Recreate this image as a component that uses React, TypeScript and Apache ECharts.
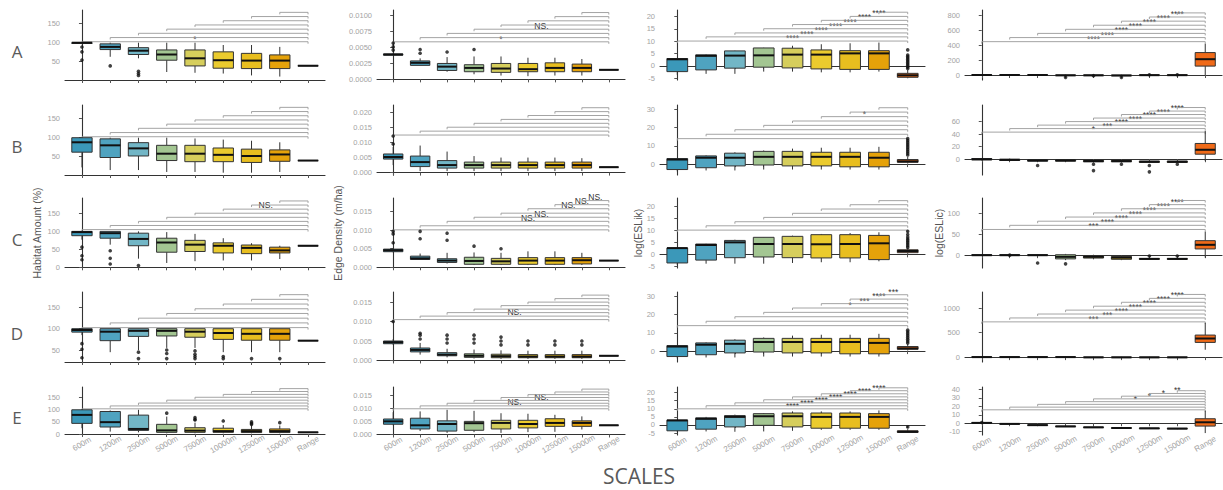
import { useEffect, useRef } from "react";
import * as echarts from "echarts";

const CATEGORIES = ["600m", "1200m", "2500m", "5000m", "7500m", "10000m", "12500m", "15000m", "Range"];
const BOX_COLORS = ["#3B98B9", "#4FA3C0", "#72B6C6", "#A3C692", "#D6CE5C", "#EBCB2E", "#E8BE1F", "#E5A20A", "#F06A18"];
const ROW_LETTERS = ["A", "B", "C", "D", "E"];
const Y_TITLES = ["Habitat Amount (%)", "Edge Density (m/ha)", "log(ESLik)", "log(ESLic)"];
const X_TITLE = "SCALES";

// ---------- Row A ----------
const box_A1 = [[96, 98, 100, 100, 100], [63, 82, 89, 97, 100], [59, 69, 79, 87, 100], [23, 54, 69, 81, 100], [21, 39, 59, 81, 100], [19, 33, 54, 76, 94], [14, 32, 53, 72, 94], [11, 32, 53, 68, 89], [39.5, 39.5, 39.5, 39.5, 39.5]];
const out_A1 = [[0, 88.6], [0, 76], [0, 54.4], [1, 39], [2, 25], [2, 19], [2, 14]];
const br_A1 = [102.6, 113.6, 124.7, 135.7, 146.7, 157.8, 168.8, 179.8];
const sig_A1 = ["*", "", "", "", "", "", "", ""];
const y_A1 = [2, 186];
const ticks_A1 = [50, 100, 150];

const box_A2 = [[0.0038, 0.0038, 0.0039, 0.004, 0.0042], [0.0022, 0.0022, 0.0026, 0.0029, 0.0033], [0.0012, 0.0014, 0.002, 0.0025, 0.0035], [0.0008, 0.0012, 0.0018, 0.0023, 0.0036], [0.0006, 0.0011, 0.0017, 0.0025, 0.0036], [0.0005, 0.0012, 0.0016, 0.0025, 0.0034], [0.0006, 0.0012, 0.0018, 0.0026, 0.0034], [0.0006, 0.0012, 0.0018, 0.0024, 0.0032], [0.0015, 0.0015, 0.0015, 0.0015, 0.0015]];
const out_A2 = [[0, 0.0057], [0, 0.0051], [0, 0.0046], [1, 0.0047], [1, 0.0041], [2, 0.0043], [3, 0.0047]];
const br_A2 = [0.0059, 0.00656, 0.00722, 0.00788, 0.00854, 0.0092, 0.00986, 0.0105];
const sig_A2 = ["*", "", "", "NS.", "", "", "", ""];
const y_A2 = [-0.0001, 0.0109];
const ticks_A2 = [0, 0.0025, 0.005, 0.0075, 0.01];

const box_A3 = [[-3.6, -2.3, 2.7, 3.0, 3.1], [-3.2, -1.6, 4.1, 4.5, 4.7], [-3.2, -0.9, 4.2, 6.1, 6.2], [-2.3, -0.5, 4.3, 7.3, 7.4], [-2.3, -0.8, 4.6, 7.2, 8.2], [-2.6, -1.2, 4.6, 6.5, 8.8], [-2.6, -1.4, 5.1, 6.2, 9.2], [-2.3, -1.4, 5.1, 6.2, 9.5], [-5.0, -4.6, -3.8, -3.0, -1.6]];
const out_A3 = [[8, 6.5], [8, 4.4], [8, 3.8], [8, 3.2], [8, 2.6], [8, 2.0], [8, 1.4], [8, 0.8], [8, 0.2], [8, -0.4], [8, -1.0]];
const br_A3 = [10.1, 11.8, 13.4, 15.1, 16.8, 18.5, 20.1, 21.8];
const sig_A3 = ["****", "****", "****", "****", "****", "****", "****", ""];
const y_A3 = [-5.7, 22.7];
const ticks_A3 = [-5, 0, 5, 10, 15, 20];

const box_A4 = [[-8, -3, 0, 3, 8], [-8, -3, 0, 3, 8], [-6, -2, 0, 2, 6], [-14, -8, -4, 0, 5], [-14, -8, -4, 0, 5], [-16, -10, -6, -2, 4], [-10, -5, -2, 2, 6], [-10, -5, -2, 2, 6], [0, 120, 213, 302, 422]];
const out_A4 = [[3, -31], [4, -9], [5, -31], [6, 4], [7, 4]];
const br_A4 = [449, 504, 560, 615, 670, 725, 781, 836];
const sig_A4 = ["****", "****", "****", "****", "****", "****", "****", ""];
const y_A4 = [-67, 875];
const ticks_A4 = [0, 200, 400, 600, 800];

// ---------- Row B ----------
const box_B1 = [[22, 62, 88, 100, 100], [15, 48, 80, 97, 100], [15, 52, 72, 87, 100], [10, 40, 58, 80, 100], [10, 37, 58, 80, 98], [8, 37, 55, 73, 95], [8, 35, 52, 70, 92], [10, 38, 56, 68, 88], [40, 40, 40, 40, 40]];
const out_B1: number[][] = [];
const br_B1 = [102.6, 113.6, 124.7, 135.7, 146.7, 157.8, 168.8, 179.8];
const sig_B1 = ["", "", "", "", "", "", "", ""];
const y_B1 = [2, 186];
const ticks_B1 = [50, 100, 150];

const box_B2 = [[0.0025, 0.0045, 0.0052, 0.0062, 0.0085], [0.0005, 0.002, 0.0035, 0.0055, 0.009], [0.0005, 0.0015, 0.0025, 0.004, 0.007], [0.0005, 0.0015, 0.0025, 0.0035, 0.0055], [0.0005, 0.0015, 0.0025, 0.0035, 0.005], [0.0005, 0.0015, 0.0025, 0.0035, 0.005], [0.0005, 0.0015, 0.0025, 0.0035, 0.005], [0.0005, 0.0015, 0.0025, 0.0035, 0.0048], [0.0018, 0.0018, 0.0018, 0.0018, 0.0018]];
const out_B2 = [[0, 0.0095], [0, 0.0122]];
const br_B2 = [0.0125, 0.0138, 0.0151, 0.0164, 0.0177, 0.019, 0.0203, 0.0216];
const sig_B2 = ["", "", "", "", "", "", "", ""];
const y_B2 = [-0.0008, 0.0225];
const ticks_B2 = [0, 0.005, 0.01, 0.015, 0.02];

const box_B3 = [[-4, -3, 2.5, 3, 3], [-3.5, -2, 3.5, 4.5, 4.8], [-3.5, -1, 3.5, 6, 6.5], [-3, -0.5, 4, 7, 7.5], [-3, -1, 4, 7, 8.5], [-3, -1, 4, 6.5, 9], [-3, -1.5, 4, 6.5, 9], [-3, -1.5, 3.5, 6.5, 9.5], [0.3, 1, 1.5, 2.5, 4]];
const out_B3 = [[8, 5], [8, 6], [8, 7], [8, 8], [8, 9], [8, 10], [8, 11], [8, 12], [8, 13], [8, 14]];
const br_B3 = [14, 16.4, 18.9, 21.3, 23.7, 26.1, 28.6, 31];
const sig_B3 = ["", "", "", "", "", "*", "", ""];
const y_B3 = [-6, 32.5];
const ticks_B3 = [0, 10, 20, 30];

const box_B4 = [[-2, -1, 0, 1, 2], [-3, -2, -1, 0, 1], [-4, -3, -2, -1, 0], [-4, -3, -2, -1, 0], [-5, -4, -3, -2, -1], [-5, -4, -3, -2, -1], [-6, -5, -4, -3, -2], [-6, -5, -4, -3, -2], [-3, 8, 15, 25, 45]];
const out_B4 = [[2, -10], [4, -8], [4, -18], [5, -8], [6, -10], [6, -20], [7, -8]];
const br_B4 = [43, 48.6, 54.1, 59.7, 65.3, 70.9, 76.4, 82];
const sig_B4 = ["*", "***", "****", "****", "****", "****", "****", ""];
const y_B4 = [-25, 86];
const ticks_B4 = [0, 20, 40, 60];

// ---------- Row C ----------
const box_C1 = [[77, 88, 98, 100, 100], [63, 81, 95, 100, 100], [24, 60, 79, 95, 100], [12, 42, 69, 81, 98], [17, 44, 63, 75, 93], [19, 40, 60, 68, 81], [19, 38, 54, 62, 67], [23, 40, 47, 56, 60], [60, 60, 60, 60, 60]];
const out_C1 = [[0, 56], [0, 32], [0, 21], [1, 46], [1, 25], [1, 9], [2, 5]];
const br_C1 = [105, 116.4, 127.8, 139.2, 150.6, 162, 173.4, 184.8];
const sig_C1 = ["", "", "", "", "", "NS.", "", ""];
const y_C1 = [-2, 193];
const ticks_C1 = [0, 50, 100, 150];

const box_C2 = [[0.004, 0.0042, 0.0046, 0.0049, 0.0052], [0.002, 0.0021, 0.0024, 0.003, 0.0037], [0.001, 0.0013, 0.0018, 0.0023, 0.0039], [0.0006, 0.0008, 0.0017, 0.0027, 0.004], [0.0006, 0.0008, 0.0016, 0.0024, 0.0039], [0.0006, 0.0008, 0.0018, 0.0026, 0.0043], [0.0006, 0.0008, 0.0018, 0.0026, 0.0043], [0.0006, 0.0009, 0.0019, 0.0026, 0.0039], [0.0018, 0.0018, 0.0018, 0.0018, 0.0018]];
const out_C2 = [[0, 0.0097], [0, 0.009], [0, 0.0066], [1, 0.0097], [1, 0.0077], [2, 0.0092], [2, 0.0073], [3, 0.0057], [4, 0.005]];
const br_C2 = [0.0101, 0.0112, 0.0124, 0.0135, 0.0146, 0.0158, 0.0169, 0.018];
const sig_C2 = ["", "", "NS.", "NS.", "", "NS.", "NS.", "NS."];
const y_C2 = [-0.0002, 0.0187];
const ticks_C2 = [0, 0.005, 0.01, 0.015];

const box_C3 = [[-4.4, -3.6, 2.6, 2.6, 2.7], [-3.9, -2.4, 3.9, 4.3, 4.4], [-3.9, -1.4, 5.0, 5.8, 6.1], [-3.9, -1.1, 4.3, 7.1, 7.2], [-3.6, -1.4, 4.3, 7.5, 7.8], [-3.3, -1.5, 4.2, 8.2, 8.5], [-3.3, -1.5, 4.3, 8.2, 8.9], [-2.9, -2.2, 4.6, 7.9, 9.2], [0.2, 0.7, 1.4, 1.9, 2.6]];
const out_C3 = [[8, 9.6], [8, 8.3], [8, 7.2], [8, 6.4], [8, 5.7], [8, 5.0], [8, 4.3], [8, 3.6], [8, 2.9]];
const br_C3 = [10.1, 11.9, 13.6, 15.4, 17.1, 18.9, 20.7, 22.4];
const sig_C3 = ["", "", "", "", "", "", "", ""];
const y_C3 = [-5.7, 23.5];
const ticks_C3 = [-5, 0, 5, 10, 15, 20];

const box_C4 = [[-2, -1, 0, 1, 2], [-2, -1, 0, 1, 2], [-2, -1, 0, 1, 2], [-12, -9, -4, 1, 3], [-10, -7, -4, -1, 1], [-12, -10, -6, -3, -1], [-11, -10, -9, -8, -7], [-11, -10, -9, -8, -7], [-6, 15, 25, 35, 57]];
const out_C4 = [[1, 0], [2, -19], [3, -21], [6, -2], [7, -2]];
const br_C4 = [62, 72, 82, 92, 102, 112, 122, 132];
const sig_C4 = ["***", "****", "****", "****", "****", "****", "****", ""];
const y_C4 = [-31, 138];
const ticks_C4 = [0, 50, 100];

// ---------- Row D ----------
const box_D1 = [[85, 92, 97, 100, 100], [45, 72, 93, 100, 100], [50, 82, 95, 100, 100], [55, 83, 95, 100, 100], [55, 80, 93, 100, 100], [45, 75, 90, 100, 100], [45, 73, 88, 100, 100], [45, 73, 88, 100, 100], [72, 72, 72, 72, 72]];
const out_D1 = [[0, 65], [0, 52], [0, 32], [2, 45], [2, 30], [3, 50], [3, 42], [3, 30], [4, 48], [4, 40], [4, 35], [4, 30], [5, 35], [5, 30], [6, 30], [7, 30]];
const br_D1 = [102.6, 113.6, 124.7, 135.7, 146.7, 157.8, 168.8, 179.8];
const sig_D1 = ["", "", "", "", "", "", "", ""];
const y_D1 = [22, 186];
const ticks_D1 = [50, 100, 150];

const box_D2 = [[0.004, 0.0043, 0.0047, 0.005, 0.0055], [0.0015, 0.0022, 0.0027, 0.0032, 0.0045], [0.0008, 0.0012, 0.0015, 0.002, 0.003], [0.0005, 0.0008, 0.0012, 0.0017, 0.0028], [0.0004, 0.0007, 0.0011, 0.0016, 0.0026], [0.0004, 0.0007, 0.001, 0.0015, 0.0025], [0.0004, 0.0007, 0.001, 0.0015, 0.0025], [0.0004, 0.0007, 0.001, 0.0015, 0.0025], [0.0012, 0.0012, 0.0012, 0.0012, 0.0012]];
const out_D2 = [[0, 0.01], [1, 0.0055], [1, 0.0065], [1, 0.007], [2, 0.0045], [2, 0.0055], [2, 0.0065], [3, 0.0045], [3, 0.0055], [3, 0.0065], [4, 0.004], [4, 0.005], [4, 0.006], [5, 0.004], [5, 0.005], [6, 0.004], [6, 0.005], [7, 0.004], [7, 0.005]];
const br_D2 = [0.0105, 0.0114, 0.0123, 0.0132, 0.0141, 0.015, 0.0159, 0.0168];
const sig_D2 = ["", "NS.", "", "", "", "", "", ""];
const y_D2 = [-0.0004, 0.0176];
const ticks_D2 = [0, 0.005, 0.01, 0.015];

const box_D3 = [[-4, -3, 2.5, 3, 3], [-3.5, -2, 3.5, 4.5, 4.8], [-3.5, -1, 4, 6, 6.5], [-3, -0.5, 5, 7, 7.5], [-3, -1, 5, 7, 8.5], [-3, -1, 5, 7, 9], [-3, -1.5, 5, 7, 9], [-3, -1.5, 4.5, 7, 9.5], [0.3, 1, 1.5, 2.5, 4]];
const out_D3 = [[8, 4.5], [8, 5.5], [8, 6.5], [8, 7.5], [8, 8.5], [8, 9.5], [8, 10.5], [8, 11.5]];
const br_D3 = [14, 16.4, 18.9, 21.3, 23.7, 26.1, 28.6, 31];
const sig_D3 = ["", "", "", "", "*", "***", "****", "***"];
const y_D3 = [-6, 32.5];
const ticks_D3 = [0, 10, 20, 30];

const box_D4 = [[-10, -5, 0, 5, 10], [-10, -5, 0, 5, 10], [-10, -5, 0, 5, 10], [-10, -5, 0, 5, 10], [-15, -10, -5, 0, 5], [-15, -10, -5, 0, 5], [-15, -10, -5, 0, 5], [-15, -10, -5, 0, 5], [150, 300, 380, 450, 700]];
const out_D4: number[][] = [];
const br_D4 = [720, 800, 880, 960, 1040, 1120, 1200, 1280];
const sig_D4 = ["***", "***", "****", "****", "****", "****", "****", ""];
const y_D4 = [-100, 1330];
const ticks_D4 = [0, 500, 1000];

// ---------- Row E ----------
const box_E1 = [[24, 44, 79, 100, 103], [10, 29, 49, 93, 97], [7, 15, 21, 78, 100], [3, 7, 15, 40, 72], [3, 7, 14, 26, 47], [3, 7, 12, 24, 37], [3, 6, 12, 19, 36], [3, 6, 12, 21, 35], [7, 7, 7, 7, 7]];
const out_E1 = [[3, 86], [4, 68], [4, 61], [4, 58], [5, 54], [6, 50], [6, 44], [6, 40], [7, 47]];
const br_E1 = [104, 115.9, 127.8, 139.7, 151.6, 163.5, 175.4, 187.3];
const sig_E1 = ["", "", "", "", "", "", "", ""];
const y_E1 = [-4, 194];
const ticks_E1 = [0, 50, 100, 150];

const box_E2 = [[0.0035, 0.0039, 0.005, 0.0059, 0.0085], [0.0013, 0.0021, 0.0035, 0.0062, 0.0088], [0.0006, 0.0013, 0.004, 0.0052, 0.0094], [0.0009, 0.0016, 0.0043, 0.005, 0.009], [0.0006, 0.0021, 0.0044, 0.0054, 0.0081], [0.0009, 0.0025, 0.004, 0.0054, 0.0079], [0.001, 0.0031, 0.0044, 0.006, 0.0075], [0.0019, 0.0031, 0.0044, 0.0052, 0.0069], [0.0035, 0.0035, 0.0035, 0.0035, 0.0035]];
const out_E2: number[][] = [];
const br_E2 = [0.0098, 0.0109, 0.0119, 0.013, 0.0141, 0.0152, 0.0162, 0.0173];
const sig_E2 = ["", "NS.", "", "NS.", "", "", "", ""];
const y_E2 = [-0.0002, 0.0181];
const ticks_E2 = [0, 0.005, 0.01, 0.015];

const box_E3 = [[-4.2, -3.6, 2.8, 3.0, 3.1], [-4.0, -2.6, 3.8, 4.4, 5.0], [-4.2, -1.2, 5.0, 5.8, 6.4], [-4.0, -0.2, 5.4, 7.0, 7.4], [-3.6, -1.2, 5.4, 7.4, 8.4], [-3.0, -2.0, 5.0, 7.4, 8.4], [-3.0, -2.0, 5.0, 7.4, 8.4], [-3.0, -2.0, 5.0, 7.0, 9.0], [-4.8, -4.6, -4.2, -3.6, -2.6]];
const out_E3 = [[8, -1.2]];
const br_E3 = [10, 11.9, 13.7, 15.6, 17.4, 19.3, 21.2, 23];
const sig_E3 = ["****", "****", "****", "****", "****", "****", "****", ""];
const y_E3 = [-6.2, 23.5];
const ticks_E3 = [-5, 0, 5, 10, 15, 20];

const box_E4 = [[-0.3, 0, 0.4, 0.8, 1.1], [-1.5, -1.1, -0.8, -0.5, -0.1], [-3.0, -2.6, -2.3, -2.0, -1.6], [-4.5, -4.1, -3.8, -3.5, -3.1], [-5.6, -5.2, -4.9, -4.6, -4.2], [-6.4, -6.0, -5.7, -5.4, -5.0], [-6.8, -6.4, -6.1, -5.8, -5.4], [-7.1, -6.7, -6.4, -6.1, -5.7], [-11.7, -3.4, 1.1, 5.3, 14.8]];
const out_E4 = [[0, 0.8]];
const br_E4 = [15.9, 19.1, 22.4, 25.6, 28.9, 32.1, 35.3, 38.6];
const sig_E4 = ["", "", "", "*", "*", "*", "**", ""];
const y_E4 = [-14, 43];
const ticks_E4 = [-10, 0, 10, 20, 30, 40];

// ---------- layout ----------
const COL_LEFT = [65, 377, 660, 965];
const COL_WIDTH = [260, 248, 265, 257];
const ROW_TOP = [10, 105, 198, 292, 387];
const ROW_BOTTOM = [80, 175, 268, 362, 435];
const DECIMALS = [
  [0, 4, 0, 0],
  [0, 3, 0, 0],
  [0, 3, 0, 0],
  [0, 3, 0, 0],
  [0, 3, 0, 0],
];

const PANELS = [
  [box_A1, out_A1, br_A1, sig_A1, y_A1, ticks_A1], [box_A2, out_A2, br_A2, sig_A2, y_A2, ticks_A2], [box_A3, out_A3, br_A3, sig_A3, y_A3, ticks_A3], [box_A4, out_A4, br_A4, sig_A4, y_A4, ticks_A4],
  [box_B1, out_B1, br_B1, sig_B1, y_B1, ticks_B1], [box_B2, out_B2, br_B2, sig_B2, y_B2, ticks_B2], [box_B3, out_B3, br_B3, sig_B3, y_B3, ticks_B3], [box_B4, out_B4, br_B4, sig_B4, y_B4, ticks_B4],
  [box_C1, out_C1, br_C1, sig_C1, y_C1, ticks_C1], [box_C2, out_C2, br_C2, sig_C2, y_C2, ticks_C2], [box_C3, out_C3, br_C3, sig_C3, y_C3, ticks_C3], [box_C4, out_C4, br_C4, sig_C4, y_C4, ticks_C4],
  [box_D1, out_D1, br_D1, sig_D1, y_D1, ticks_D1], [box_D2, out_D2, br_D2, sig_D2, y_D2, ticks_D2], [box_D3, out_D3, br_D3, sig_D3, y_D3, ticks_D3], [box_D4, out_D4, br_D4, sig_D4, y_D4, ticks_D4],
  [box_E1, out_E1, br_E1, sig_E1, y_E1, ticks_E1], [box_E2, out_E2, br_E2, sig_E2, y_E2, ticks_E2], [box_E3, out_E3, br_E3, sig_E3, y_E3, ticks_E3], [box_E4, out_E4, br_E4, sig_E4, y_E4, ticks_E4],
] as any[];

const FONT = "Liberation Sans, Arial, sans-serif";
const CAT_IDX = CATEGORIES.map((_, i) => i);

function buildOption() {
  const grid: any[] = [];
  const xAxis: any[] = [];
  const yAxis: any[] = [];
  const series: any[] = [];
  const graphic: any[] = [];

  PANELS.forEach((p: any[], idx: number) => {
    const r = Math.floor(idx / 4);
    const c = idx % 4;
    const [box, out, br, sig, yr, ticks] = p;
    const dec = DECIMALS[r][c];
    grid.push({ left: COL_LEFT[c], top: ROW_TOP[r], width: COL_WIDTH[c], height: ROW_BOTTOM[r] - ROW_TOP[r], containLabel: false });
    xAxis.push({
      type: "value", gridIndex: idx, min: -0.6, max: 8.6,
      axisLine: { show: true, lineStyle: { color: "#333", width: 1.1 } },
      axisTick: { show: true, customValues: CAT_IDX, length: 3, lineStyle: { color: "#555" } },
      axisLabel: r === 4 ? {
        show: true, customValues: CAT_IDX, formatter: (v: number) => CATEGORIES[Math.round(v)] || "",
        rotate: 30, align: "center", verticalAlign: "middle", margin: 9, fontSize: 8, color: "#a3a3a3", fontFamily: FONT,
      } : { show: false },
      splitLine: { show: false },
    });
    yAxis.push({
      type: "value", gridIndex: idx, min: yr[0], max: yr[1],
      axisLine: { show: true, lineStyle: { color: "#333", width: 1.1 } },
      axisTick: { show: true, customValues: ticks, length: 3, lineStyle: { color: "#555" } },
      axisLabel: { show: true, customValues: ticks, formatter: (v: number) => v.toFixed(dec), fontSize: 7.5, color: "#a3a3a3", margin: 5, fontFamily: FONT },
      splitLine: { show: false },
    });
    series.push({
      type: "custom", xAxisIndex: idx, yAxisIndex: idx, z: 3,
      data: box.map((b: number[], k: number) => [k, b[0], b[1], b[2], b[3], b[4]]),
      encode: { x: 0, y: [1, 2, 3, 4, 5] },
      renderItem: (params: any, api: any) => {
        const x = api.value(0);
        const lo = api.coord([x, api.value(1)]);
        const q1 = api.coord([x, api.value(2)]);
        const md = api.coord([x, api.value(3)]);
        const q3 = api.coord([x, api.value(4)]);
        const hi = api.coord([x, api.value(5)]);
        const w = api.size([1, 0])[0] * 0.72;
        const cx = lo[0];
        return {
          type: "group",
          children: [
            { type: "line", shape: { x1: cx, y1: hi[1], x2: cx, y2: q3[1] }, style: { stroke: "#333", lineWidth: 1 } },
            { type: "line", shape: { x1: cx, y1: q1[1], x2: cx, y2: lo[1] }, style: { stroke: "#333", lineWidth: 1 } },
            { type: "rect", shape: { x: cx - w / 2, y: q3[1], width: w, height: Math.max(q1[1] - q3[1], 0.01) }, style: { fill: BOX_COLORS[x], stroke: "#333", lineWidth: 1 } },
            { type: "line", shape: { x1: cx - w / 2, y1: md[1], x2: cx + w / 2, y2: md[1] }, style: { stroke: "#111", lineWidth: 2 } },
          ],
        };
      },
    });
    series.push({
      type: "scatter", xAxisIndex: idx, yAxisIndex: idx, z: 4,
      data: out, symbolSize: 3.6, itemStyle: { color: "#111" }, silent: true,
    });
    series.push({
      type: "custom", xAxisIndex: idx, yAxisIndex: idx, z: 2,
      data: br.map((v: number, k: number) => [k, 8, v, k]),
      encode: { x: [0, 1], y: 2 },
      renderItem: (params: any, api: any) => {
        const a = api.coord([api.value(0), api.value(2)]);
        const b = api.coord([api.value(1), api.value(2)]);
        const label = sig[api.value(3)] || "";
        const children: any[] = [
          { type: "polyline", shape: { points: [[a[0], a[1] + 2], [a[0], a[1]], [b[0], b[1]], [b[0], b[1] + 2]] }, style: { stroke: "#9a9a9a", lineWidth: 0.9, fill: null } },
        ];
        if (label) {
          const star = label.startsWith("*");
          children.push({
            type: "text", x: (a[0] + b[0]) / 2, y: a[1] + (star ? 1.5 : 0.8),
            style: { text: label, fontSize: 8.5, fill: "#333", align: "center", verticalAlign: "bottom", fontFamily: FONT },
          });
        }
        return { type: "group", children };
      },
    });
  });

  ROW_LETTERS.forEach((t, r) => {
    graphic.push({
      type: "text", x: 17, y: (ROW_TOP[r] + ROW_BOTTOM[r]) / 2 + 6,
      style: { text: t, fontSize: 17, fill: "#5a5a5a", align: "center", verticalAlign: "middle", fontFamily: "Open Sans, Noto Sans, sans-serif" },
    });
  });
  const titleX = [37, 338, 638, 939];
  Y_TITLES.forEach((t, c) => {
    graphic.push({
      type: "text", x: titleX[c], y: 233, rotation: Math.PI / 2,
      style: { text: t, fontSize: 10.5, fill: "#555", align: "center", verticalAlign: "middle", fontFamily: FONT },
    });
  });
  graphic.push({
    type: "text", x: 639, y: 476,
    style: { text: X_TITLE, fontSize: 21, fill: "#5a5a5a", align: "center", verticalAlign: "middle", fontFamily: "Open Sans, Noto Sans, sans-serif" },
  });

  return { animation: false, backgroundColor: "#ffffff", grid, xAxis, yAxis, series, graphic };
}

export default function App() {
  const ref = useRef<HTMLDivElement>(null);
  useEffect(() => {
    if (!ref.current) return;
    const chart = echarts.init(ref.current, null, { renderer: "svg" });
    chart.setOption(buildOption() as any);
    return () => chart.dispose();
  }, []);
  return <div ref={ref} style={{ position: "fixed", left: 0, top: 0, width: 1223, height: 490, background: "#fff" }} />;
}
